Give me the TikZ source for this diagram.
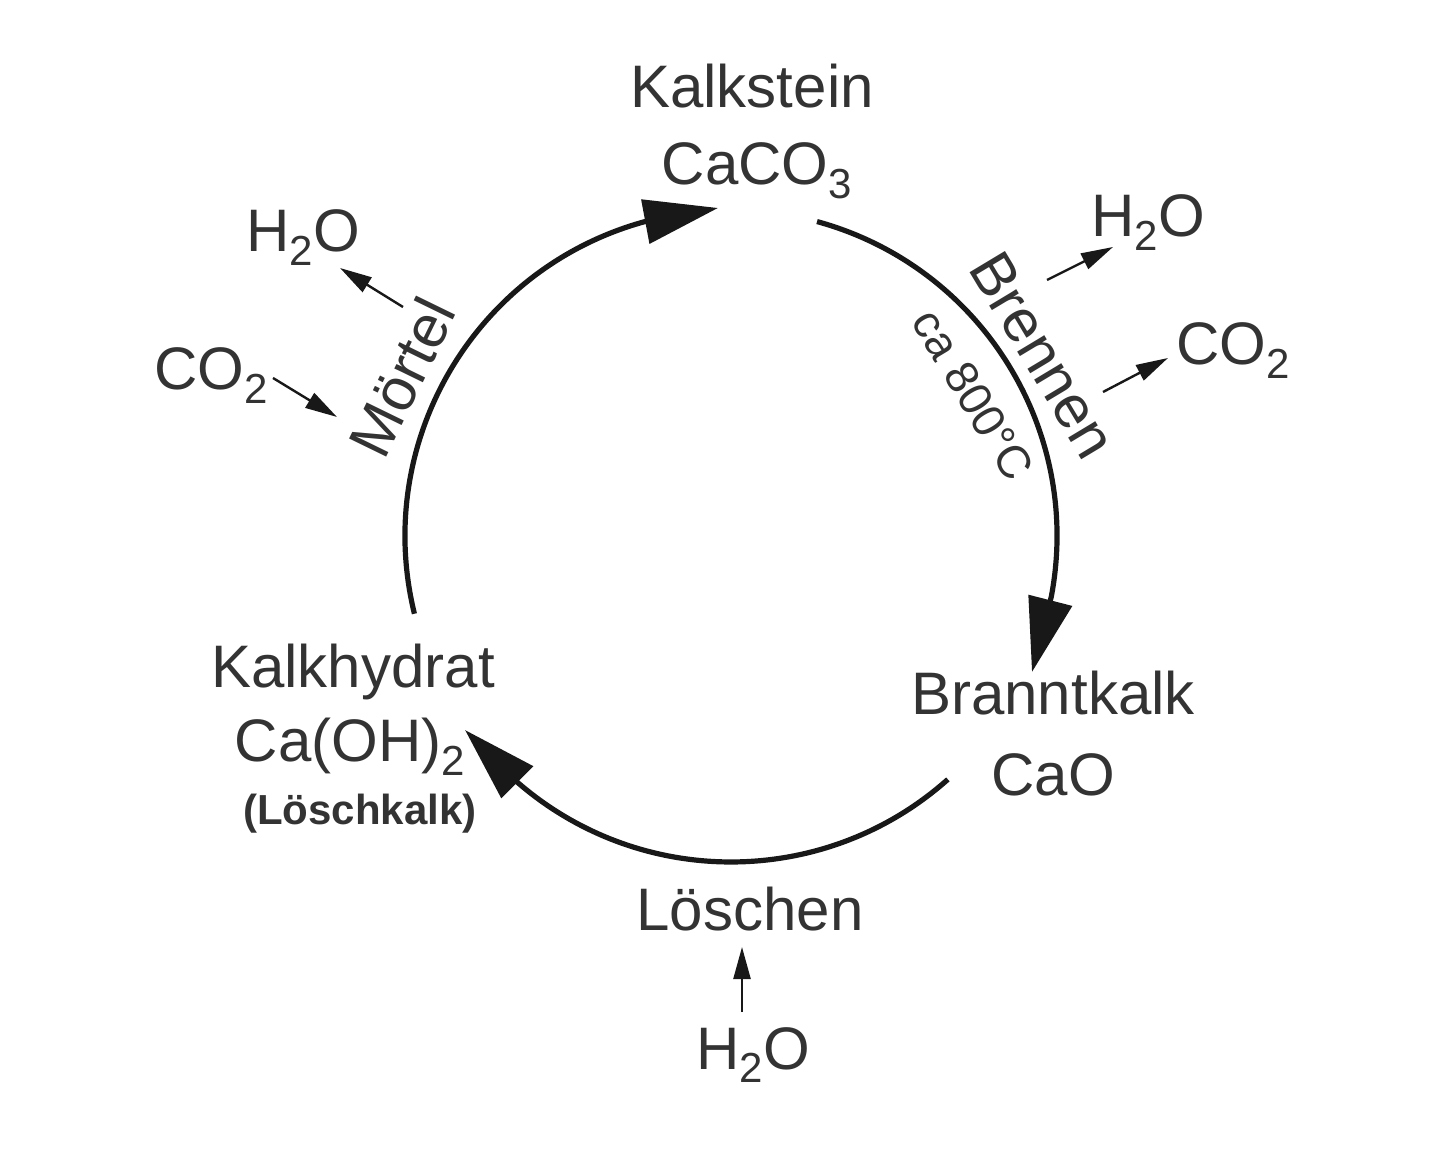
\documentclass[tikz,border=0pt]{standalone}
\usepackage{fontspec}
\setmainfont{Liberation Sans}
\usepackage{graphicx}
\usetikzlibrary{arrows.meta,calc}
\definecolor{txt}{HTML}{333333}
\definecolor{ln}{HTML}{181818}
\newcommand\sub[1]{\raisebox{-0.22em}{\fontsize{21}{21}\selectfont #1}}
\tikzset{
  lbl/.style={inner sep=0pt, text=txt, font=\fontsize{30}{36}\selectfont},
  lblb/.style={inner sep=0pt, text=txt, font=\fontsize{21}{25}\selectfont\bfseries},
  lbls/.style={inner sep=0pt, text=txt, font=\fontsize{23}{28}\selectfont},
  cyc/.style={draw=ln, line width=2.6pt, -{Triangle[length=37pt,width=22pt]}},
  side/.style={draw=ln, line width=1.2pt, -{Triangle[length=16pt,width=8.5pt]}}
}
\begin{document}
\begin{tikzpicture}[x=0.5pt,y=0.5pt]
\useasboundingbox (0,0) rectangle (1440,1152);
% centre of the cycle
\coordinate (C) at (731,616);
\def\R{326}
% main labels
\node[lbl, anchor=base] (kalkstein) at (752,1044) {Kalkstein};
\node[lbl, anchor=base] (caco3) at (757,967) {CaCO\sub{3}};
\node[lbl, anchor=base] (brannt) at (1053,437) {Branntkalk};
\node[lbl, anchor=base] (cao) at (1053,357) {CaO};
\node[lbl, anchor=base] (hydrat) at (353,464) {Kalkhydrat};
\node[lbl, anchor=base] (caoh) at (350,390) {Ca(OH)\sub{2}};
\node[lblb, anchor=base] (loeschkalk) at (360,328) {(Löschkalk)};
\node[lbl, anchor=base] (loeschen) at (750,222) {Löschen};
\node[lbl, anchor=base] (h2ob) at (753,83) {H\sub{2}O};
\node[lbl, anchor=base] (h2otl) at (303,900) {H\sub{2}O};
\node[lbl, anchor=base] (co2l) at (211,762) {CO\sub{2}};
\node[lbl, anchor=base] (h2otr) at (1148,915) {H\sub{2}O};
\node[lbl, anchor=base] (co2r) at (1233,787) {CO\sub{2}};
% rotated process labels
\node[lbl, rotate=-59] (brennen) at (1043,797) {Brennen};
\node[lbls, rotate=-59] (temp) at (973,757) {ca 800°C};
\node[lbl, rotate=64] (moertel) at (402,775) {Mörtel};
% arrow tips of the cycle
\coordinate (tipK) at (718,944);
\coordinate (tipB) at (1032,480);
\coordinate (tipH) at (465,422);
% cycle arcs
\draw[cyc] (C) ++(193.8:\R) arc[start angle=193.8, end angle=105.5, radius=\R] -- (tipK);
\draw[cyc] (C) ++(74.7:\R) arc[start angle=74.7, end angle=-10.7, radius=\R] -- (tipB);
\draw[cyc] (C) ++(-48.3:\R) arc[start angle=-48.3, end angle=-131, radius=\R] -- (tipH);
% side arrows
\coordinate (sa1) at (403,845); \coordinate (ta1) at (340,884);
\coordinate (sa2) at (273,774); \coordinate (ta2) at (337,735);
\coordinate (sa3) at (1047,872); \coordinate (ta3) at (1113,905);
\coordinate (sa4) at (1103,760); \coordinate (ta4) at (1168,794);
\coordinate (sa5) at (742,140); \coordinate (ta5) at (742,205);
\draw[side] (sa1) -- (ta1);
\draw[side] (sa2) -- (ta2);
\draw[side] (sa3) -- (ta3);
\draw[side] (sa4) -- (ta4);
\draw[side] (sa5) -- (ta5);
\end{tikzpicture}
\end{document}
